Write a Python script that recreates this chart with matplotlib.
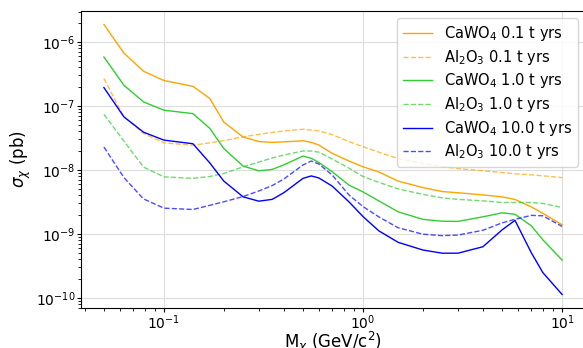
import numpy as np
import matplotlib
matplotlib.use("Agg")
import matplotlib.pyplot as plt

# Masse in GeV/c^2
mass = [0.05, 0.063, 0.079, 0.1, 0.14, 0.17, 0.2, 0.25, 0.3, 0.35, 0.4, 0.5, 0.55,
        0.6, 0.7, 0.85, 1.0, 1.2, 1.5, 2.0, 2.5, 3.0, 4.0, 5.0, 5.8, 7.0, 8.0, 10.0]

cawo4_01 = [1.88e-6, 6.7e-7, 3.5e-7, 2.5e-7, 2.03e-7, 1.31e-7, 5.6e-8, 3.27e-8, 2.78e-8, 2.7e-8,
            2.75e-8, 2.86e-8, 2.7e-8, 2.45e-8, 1.82e-8, 1.38e-8, 1.12e-8, 9.3e-9, 6.7e-9, 5.3e-9,
            4.6e-9, 4.4e-9, 4.07e-9, 3.8e-9, 3.45e-9, 2.65e-9, 2.1e-9, 1.39e-9]
al2o3_01 = [2.68e-7, 6.76e-8, 3.73e-8, 2.66e-8, 2.43e-8, 2.66e-8, 2.88e-8, 3.3e-8, 3.6e-8, 3.87e-8,
            4.07e-8, 4.33e-8, 4.2e-8, 4.08e-8, 3.57e-8, 2.78e-8, 2.31e-8, 1.9e-8, 1.51e-8, 1.26e-8,
            1.13e-8, 1.05e-8, 9.7e-9, 9.1e-9, 8.7e-9, 8.4e-9, 8.1e-9, 7.6e-9]
cawo4_1 = [5.82e-7, 2.11e-7, 1.16e-7, 8.6e-8, 7.6e-8, 4.47e-8, 2.16e-8, 1.15e-8, 9.7e-9, 1.02e-8,
           1.2e-8, 1.65e-8, 1.52e-8, 1.31e-8, 9.4e-9, 5.8e-9, 4.54e-9, 3.29e-9, 2.22e-9, 1.69e-9,
           1.58e-9, 1.57e-9, 1.85e-9, 2.14e-9, 2.03e-9, 1.34e-9, 8.1e-10, 3.9e-10]
al2o3_1 = [7.4e-8, 2.83e-8, 1.11e-8, 7.8e-9, 7.4e-9, 7.9e-9, 8.8e-9, 1.12e-8, 1.33e-8, 1.54e-8,
           1.71e-8, 1.98e-8, 1.98e-8, 1.9e-8, 1.48e-8, 1.07e-8, 7.9e-9, 6.4e-9, 5.06e-9, 4.15e-9,
           3.66e-9, 3.47e-9, 3.29e-9, 3.1e-9, 3.1e-9, 3.1e-9, 3.0e-9, 2.59e-9]
cawo4_10 = [1.94e-7, 6.76e-8, 3.9e-8, 2.93e-8, 2.57e-8, 1.29e-8, 6.7e-9, 3.8e-9, 3.25e-9, 3.47e-9,
            4.4e-9, 7.4e-9, 8.07e-9, 7.5e-9, 5.6e-9, 3.18e-9, 1.87e-9, 1.12e-9, 7.4e-10, 5.6e-10,
            5.0e-10, 5.0e-10, 6.3e-10, 1.16e-9, 1.63e-9, 5.1e-10, 2.49e-10, 1.13e-10]
al2o3_10 = [2.28e-8, 7.6e-9, 3.53e-9, 2.53e-9, 2.41e-9, 2.8e-9, 3.18e-9, 3.84e-9, 4.7e-9, 5.7e-9,
            7.2e-9, 1.2e-8, 1.38e-8, 1.24e-8, 8.36e-9, 4.08e-9, 2.68e-9, 1.85e-9, 1.25e-9, 9.9e-10,
            9.4e-10, 9.6e-10, 1.14e-9, 1.49e-9, 1.69e-9, 1.95e-9, 1.92e-9, 1.31e-9]

fig = plt.figure(figsize=(5.83, 3.48), dpi=100)
ax = fig.add_axes([81 / 583, 40 / 348, 504 / 583, 297 / 348])

ax.plot(mass, cawo4_01, color="orange", lw=1, label=r"CaWO$_4$ 0.1 t yrs")
ax.plot(mass, al2o3_01, color="orange", lw=1, ls="--", alpha=0.7, label=r"Al$_2$O$_3$ 0.1 t yrs")
ax.plot(mass, cawo4_1, color="limegreen", lw=1, label=r"CaWO$_4$ 1.0 t yrs")
ax.plot(mass, al2o3_1, color="limegreen", lw=1, ls="--", alpha=0.7, label=r"Al$_2$O$_3$ 1.0 t yrs")
ax.plot(mass, cawo4_10, color="blue", lw=1, label=r"CaWO$_4$ 10.0 t yrs")
ax.plot(mass, al2o3_10, color="blue", lw=1, ls="--", alpha=0.7, label=r"Al$_2$O$_3$ 10.0 t yrs")

ax.set_xscale("log")
ax.set_yscale("log")
ax.set_xlabel(r"M$_\chi$ (GeV/c$^2$)", fontsize=12)
ax.set_ylabel(r"$\sigma_\chi$ (pb)", fontsize=12, labelpad=2)
ax.xaxis.set_label_coords(0.5, -0.073)
ax.tick_params(labelsize=10, pad=1, length=3)
ax.tick_params(which="minor", length=2)
ax.grid(True, which="major", color="#dddddd", lw=0.8)
ax.legend(loc="upper right", fontsize=10.5, labelspacing=0.32)

fig.savefig("out.png", dpi=100)
